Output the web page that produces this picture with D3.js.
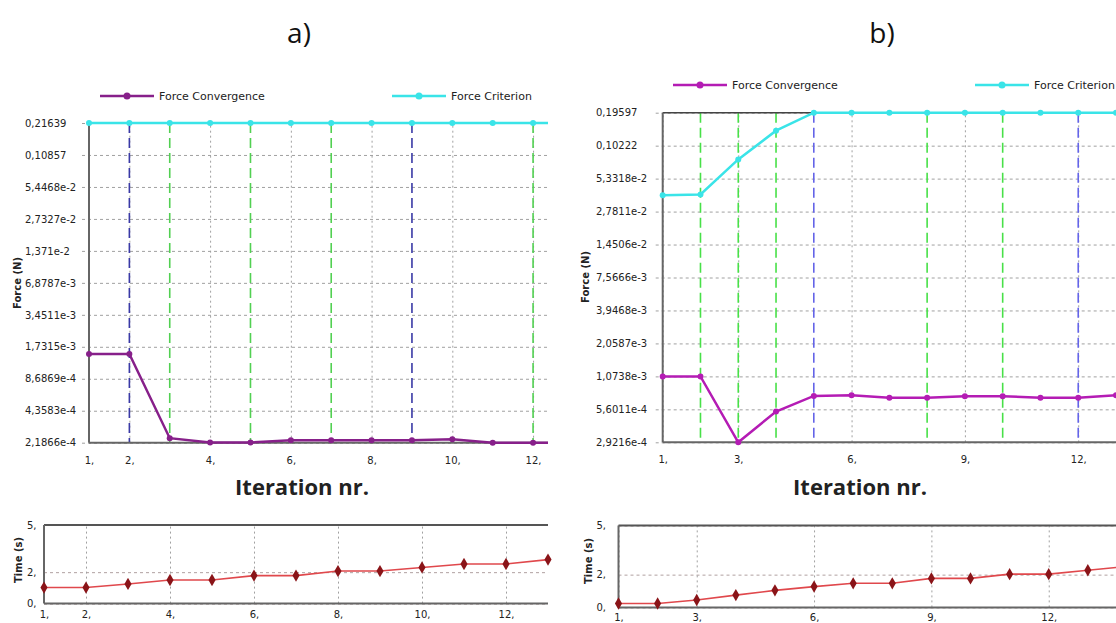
<!DOCTYPE html>
<html>
<head>
<meta charset="utf-8">
<script src="https://cdn.jsdelivr.net/npm/d3@7"></script>
<style>
  body { margin: 0; background: #fff; }
  svg { display: block; }
  text { font-family: "DejaVu Sans", sans-serif; }
</style>
</head>
<body>
<div id="chart"></div>
<script>
// ----- Data -----

const iterations = [1, 2, 3, 4, 5, 6, 7, 8, 9, 10, 11, 12, 13];
const iterationsTime = [1, 2, 3, 4, 5, 6, 7, 8, 9, 10, 11, 12, 13, 14];

// panel a)
const forceConvA = [1.48e-3, 1.48e-3, 2.41e-4, 2.2e-4, 2.2e-4, 2.3e-4, 2.3e-4, 2.3e-4, 2.3e-4, 2.36e-4, 2.19e-4, 2.19e-4, 2.19e-4];
const forceCritA = [0.21639, 0.21639, 0.21639, 0.21639, 0.21639, 0.21639, 0.21639, 0.21639, 0.21639, 0.21639, 0.21639, 0.21639, 0.21639];
const timeA = [1.02, 1.02, 1.25, 1.5, 1.5, 1.78, 1.78, 2.07, 2.07, 2.3, 2.52, 2.52, 2.8];
const forceTicksA = [0.21639, 0.10857, 5.4468e-2, 2.7327e-2, 1.371e-2, 6.8787e-3, 3.4511e-3, 1.7315e-3, 8.6869e-4, 4.3583e-4, 2.1866e-4];
const forceLabelsA = ["0,21639", "0,10857", "5,4468e-2", "2,7327e-2", "1,371e-2", "6,8787e-3", "3,4511e-3", "1,7315e-3", "8,6869e-4", "4,3583e-4", "2,1866e-4"];
const xTicksA = [1, 2, 4, 6, 8, 10, 12];
const blueMarksA = [2, 9];
const greenMarksA = [3, 5, 7, 12];

// panel b)
const forceConvB = [1.0738e-3, 1.0738e-3, 2.9216e-4, 5.36e-4, 7.3e-4, 7.4e-4, 7.05e-4, 7.05e-4, 7.25e-4, 7.25e-4, 7.05e-4, 7.05e-4, 7.4e-4];
const forceCritB = [3.83e-2, 3.9e-2, 7.79e-2, 0.1374, 0.19597, 0.19597, 0.19597, 0.19597, 0.19597, 0.19597, 0.19597, 0.19597, 0.19597];
const timeB = [0.24, 0.24, 0.45, 0.75, 1.04, 1.27, 1.47, 1.47, 1.77, 1.77, 2.03, 2.03, 2.27, 2.5];
const forceTicksB = [0.19597, 0.10222, 5.3318e-2, 2.7811e-2, 1.4506e-2, 7.5666e-3, 3.9468e-3, 2.0587e-3, 1.0738e-3, 5.6011e-4, 2.9216e-4];
const forceLabelsB = ["0,19597", "0,10222", "5,3318e-2", "2,7811e-2", "1,4506e-2", "7,5666e-3", "3,9468e-3", "2,0587e-3", "1,0738e-3", "5,6011e-4", "2,9216e-4"];
const xTicksB = [1, 3, 6, 9, 12];
const blueMarksB = [5, 12];
const greenMarksB = [2, 3, 4, 8, 10];

const timeTicks = [0, 2, 5];
const timeLabels = ["0,", "2,", "5,"];

const width = 1116;
const height = 623;

const svg = d3.select("#chart")
    .append("svg")
    .attr("width", width)
    .attr("height", height);

let clipCount = 0;
function addClip(x0, y0, x1, y1) {
    const id = "clip" + (clipCount++);
    svg.append("clipPath").attr("id", id)
        .append("rect")
        .attr("x", x0).attr("y", y0 - 6)
        .attr("width", x1 - x0).attr("height", y1 - y0 + 12);
    return `url(#${id})`;
}

// ----- Force chart -----
function forceChart(o) {
    const x = d3.scaleLinear().domain(o.xDomain).range([o.left, o.right]);
    const y = d3.scaleLog()
        .domain([o.yTicks[o.yTicks.length - 1], o.yTicks[0]])
        .range([o.bottom, o.top]);
    const g = svg.append("g");

    // horizontal grid + tick labels
    const yAxis = g.append("g")
        .attr("transform", `translate(${o.left - 7},0)`)
        .call(d3.axisLeft(y)
            .tickValues(o.yTicks)
            .tickFormat((d, i) => o.yLabels[i])
            .tickSize(-(o.right - o.left + 7))
            .tickSizeOuter(0));
    yAxis.select(".domain").remove();
    yAxis.selectAll("line")
        .style("stroke", "#a0a0a0")
        .style("stroke-dasharray", "3,3");
    yAxis.selectAll("text")
        .attr("text-anchor", "start")
        .attr("x", o.labelX - (o.left - 7))
        .style("font-size", "10px")
        .style("fill", "#222");

    // vertical grid + tick labels
    const xAxis = g.append("g")
        .attr("transform", `translate(0,${o.bottom})`)
        .call(d3.axisBottom(x)
            .tickValues(o.xTicks)
            .tickFormat(d => d + ",")
            .tickSize(-(o.bottom - o.top))
            .tickSizeOuter(0)
            .tickPadding(14));
    xAxis.select(".domain").remove();
    xAxis.selectAll("line")
        .style("stroke", "#a0a0a0")
        .style("stroke-dasharray", "2,3");
    xAxis.selectAll("text")
        .style("font-size", "10px")
        .style("fill", "#222");

    // convergence marker lines
    g.selectAll(".green-mark")
        .data(o.greenMarks)
        .enter().append("line")
        .attr("x1", d => x(d)).attr("x2", d => x(d))
        .attr("y1", o.top).attr("y2", o.bottom)
        .style("stroke", o.green)
        .style("stroke-width", 1.6)
        .style("stroke-dasharray", "10,5");
    g.selectAll(".blue-mark")
        .data(o.blueMarks)
        .enter().append("line")
        .attr("x1", d => x(d)).attr("x2", d => x(d))
        .attr("y1", o.top).attr("y2", o.bottom)
        .style("stroke", o.blue)
        .style("stroke-width", 1.6)
        .style("stroke-dasharray", "10,5");

    // frame
    g.append("line")
        .attr("x1", o.left).attr("x2", o.right)
        .attr("y1", o.top).attr("y2", o.top)
        .style("stroke", "#444").style("stroke-width", 1.5);
    g.append("line")
        .attr("x1", o.left).attr("x2", o.left)
        .attr("y1", o.top).attr("y2", o.bottom)
        .style("stroke", "#666").style("stroke-width", 2);
    g.append("line")
        .attr("x1", o.left).attr("x2", o.right)
        .attr("y1", o.bottom).attr("y2", o.bottom)
        .style("stroke", "#666").style("stroke-width", 2);

    const clip = addClip(o.left - 4, o.top, o.right, o.bottom);
    const plot = g.append("g").attr("clip-path", clip);

    const series = [
        { values: o.conv, color: o.purple },
        { values: o.crit, color: o.cyan }
    ];
    series.forEach(s => {
        const pts = iterations.map((it, i) => ({ it, v: s.values[i] }));
        plot.append("path")
            .datum(pts)
            .attr("d", d3.line().x(d => x(d.it)).y(d => y(d.v)))
            .style("fill", "none")
            .style("stroke", s.color)
            .style("stroke-width", 2.5);
        plot.selectAll(null)
            .data(pts)
            .enter().append("circle")
            .attr("cx", d => x(d.it))
            .attr("cy", d => y(d.v))
            .attr("r", 3)
            .style("fill", s.color);
    });

    // axis title
    g.append("text")
        .attr("transform", `translate(${o.yTitleX},${o.yTitleY}) rotate(-90)`)
        .attr("text-anchor", "middle")
        .attr("dy", "0.35em")
        .style("font-size", "10px")
        .style("font-weight", "bold")
        .style("fill", "#222")
        .text("Force (N)");

    g.append("text")
        .attr("x", o.xTitleX)
        .attr("y", 495)
        .attr("text-anchor", "middle")
        .style("font-family", "'Open Sans', sans-serif")
        .style("font-size", "22px")
        .style("font-weight", "bold")
        .style("fill", "#222")
        .text("Iteration nr.");

    // legend
    const legend = g.append("g")
        .selectAll("g")
        .data([
            { name: "Force Convergence", color: o.purple, x: o.legendX[0] },
            { name: "Force Criterion", color: o.cyan, x: o.legendX[1] }
        ])
        .enter().append("g")
        .attr("transform", d => `translate(${d.x},${o.legendY})`);
    legend.append("line")
        .attr("x1", 0).attr("x2", 54)
        .style("stroke", d => d.color)
        .style("stroke-width", 2.5);
    legend.append("circle")
        .attr("cx", 27).attr("r", 3.5)
        .style("fill", d => d.color);
    legend.append("text")
        .attr("x", 59)
        .attr("dy", "0.35em")
        .style("font-size", "11px")
        .style("fill", "#222")
        .text(d => d.name);
}

// ----- Time chart -----
function timeChart(o) {
    const x = d3.scaleLinear().domain(o.xDomain).range([o.left, o.right]);
    const y = d3.scaleLinear().domain([0, 5]).range([o.bottom, o.top]);
    const g = svg.append("g");

    const yAxis = g.append("g")
        .attr("transform", `translate(${o.left},0)`)
        .call(d3.axisLeft(y)
            .tickValues(timeTicks)
            .tickFormat((d, i) => timeLabels[i])
            .tickSize(-(o.right - o.left))
            .tickSizeOuter(0));
    yAxis.select(".domain").remove();
    yAxis.selectAll("line")
        .style("stroke", "#b0a0a0")
        .style("stroke-dasharray", "3,3");
    yAxis.selectAll("text")
        .attr("text-anchor", "start")
        .attr("x", o.labelX - o.left)
        .style("font-size", "10px")
        .style("fill", "#222");

    const xAxis = g.append("g")
        .attr("transform", `translate(0,${o.bottom})`)
        .call(d3.axisBottom(x)
            .tickValues(o.xTicks)
            .tickFormat(d => d + ",")
            .tickSize(-(o.bottom - o.top))
            .tickSizeOuter(0)
            .tickPadding(7));
    xAxis.select(".domain").remove();
    xAxis.selectAll("line")
        .style("stroke", "#a0a0a0")
        .style("stroke-dasharray", "2,3");
    xAxis.selectAll("text")
        .style("font-size", "10px")
        .style("fill", "#222");

    // frame
    g.append("line")
        .attr("x1", o.left).attr("x2", o.right)
        .attr("y1", o.top).attr("y2", o.top)
        .style("stroke", "#555").style("stroke-width", 2);
    g.append("line")
        .attr("x1", o.left).attr("x2", o.left)
        .attr("y1", o.top).attr("y2", o.bottom)
        .style("stroke", "#666").style("stroke-width", 2);
    g.append("line")
        .attr("x1", o.left).attr("x2", o.right)
        .attr("y1", o.bottom).attr("y2", o.bottom)
        .style("stroke", "#666").style("stroke-width", 2);

    const clip = addClip(o.left - 5, o.top, o.right + 5, o.bottom);
    const plot = g.append("g").attr("clip-path", clip);
    const pts = iterationsTime.map((it, i) => ({ it, v: o.values[i] }));
    plot.append("path")
        .datum(pts)
        .attr("d", d3.line().x(d => x(d.it)).y(d => y(d.v)))
        .style("fill", "none")
        .style("stroke", "#e0484c")
        .style("stroke-width", 1.6);
    plot.selectAll(null)
        .data(pts)
        .enter().append("path")
        .attr("d", d3.symbol(d3.symbolDiamond, 44))
        .attr("transform", d => `translate(${x(d.it)},${y(d.v)})`)
        .style("fill", "#8a1418");

    g.append("text")
        .attr("transform", `translate(${o.yTitleX},${o.yTitleY}) rotate(-90)`)
        .attr("text-anchor", "middle")
        .attr("dy", "0.35em")
        .style("font-size", "10px")
        .style("font-weight", "bold")
        .style("fill", "#222")
        .text("Time (s)");
}

// ----- Panel titles -----
svg.selectAll(".panel-title")
    .data([{ t: "a)", x: 299 }, { t: "b)", x: 882 }])
    .enter().append("text")
    .attr("x", d => d.x)
    .attr("y", 43)
    .attr("text-anchor", "middle")
    .style("font-family", "'Open Sans', sans-serif")
    .style("font-size", "28px")
    .style("fill", "#111")
    .text(d => d.t);

// panel a)
forceChart({
    left: 89, right: 548, top: 123, bottom: 442.7, xDomain: [1, 12.37],
    labelX: 25, yTitleX: 17, yTitleY: 283, xTitleX: 302,
    yTicks: forceTicksA, yLabels: forceLabelsA, xTicks: xTicksA,
    conv: forceConvA, crit: forceCritA,
    blueMarks: blueMarksA, greenMarks: greenMarksA,
    purple: "#87208a", cyan: "#3ae4e8", blue: "#3a3aa6", green: "#52d052",
    legendX: [100, 392], legendY: 96
});
timeChart({
    left: 44, right: 548, top: 525, bottom: 603.6, xDomain: [1, 13],
    labelX: 27, yTitleX: 18, yTitleY: 560,
    xTicks: [1, 2, 4, 6, 8, 10, 12], values: timeA
});

// panel b)
forceChart({
    left: 662.7, right: 1116, top: 112.7, bottom: 442.3, xDomain: [1, 13],
    labelX: 596, yTitleX: 585, yTitleY: 277, xTitleX: 860,
    yTicks: forceTicksB, yLabels: forceLabelsB, xTicks: xTicksB,
    conv: forceConvB, crit: forceCritB,
    blueMarks: blueMarksB, greenMarks: greenMarksB,
    purple: "#b41cb4", cyan: "#3ae4e8", blue: "#6464e8", green: "#48e048",
    legendX: [673, 975], legendY: 85
});
timeChart({
    left: 618.5, right: 1116, top: 525.5, bottom: 607.4, xDomain: [1, 13.72],
    labelX: 596.5, yTitleX: 588, yTitleY: 561,
    xTicks: [1, 3, 6, 9, 12], values: timeB
});
</script>
</body>
</html>
